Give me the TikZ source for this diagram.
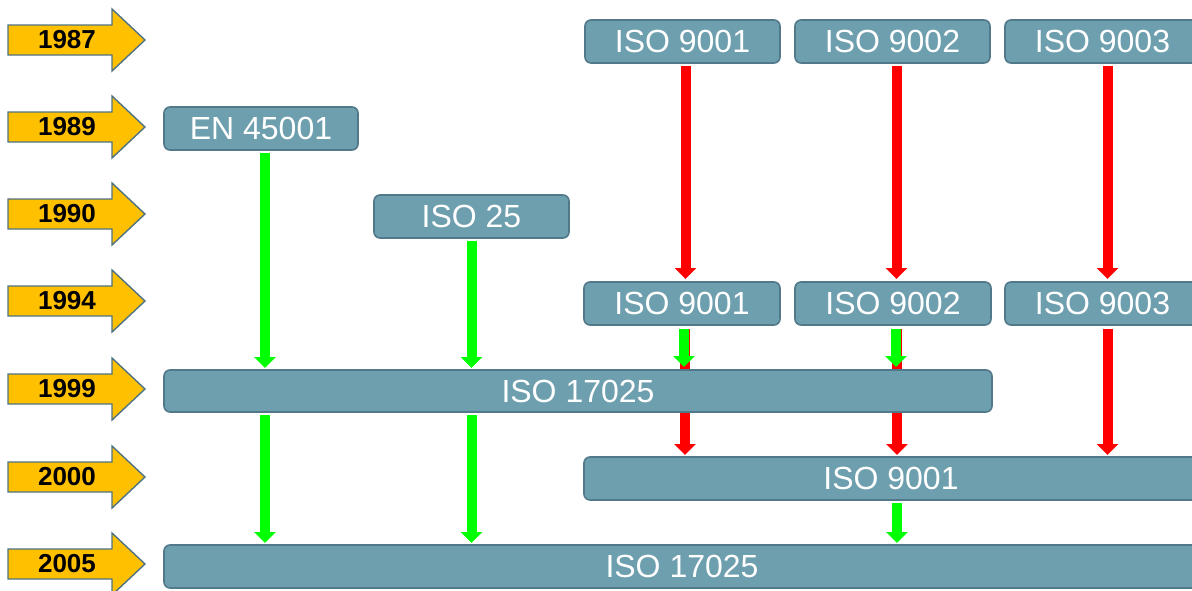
\documentclass[tikz,border=0pt]{standalone}
\usepackage{fontspec}
\setmainfont{Liberation Sans}
\usetikzlibrary{arrows.meta,backgrounds}
\definecolor{boxfill}{HTML}{6E9FAE}
\definecolor{boxline}{HTML}{52798A}
\definecolor{yel}{HTML}{FFC000}
\definecolor{yelline}{HTML}{4F7383}
\definecolor{grn}{HTML}{00FF00}
\definecolor{rd}{HTML}{FF0000}
\begin{document}
\begin{tikzpicture}[x=1pt,y=-1pt,
  stdbox/.style={draw=boxline, fill=boxfill, line width=1.6pt, rounded corners=6pt,
    inner sep=0pt, outer sep=0pt, text=white, font=\fontsize{32}{36}\selectfont},
  redarr/.style={draw=rd, line width=10pt, -{Triangle[length=11pt,width=21pt]}},
  grnarr/.style={draw=grn, line width=10pt, -{Triangle[length=11pt,width=21pt]}},
  yearlbl/.style={font=\fontsize{26}{30}\bfseries\selectfont, inner sep=0pt}]
\useasboundingbox (0,0) rectangle (1192,590);
\clip (0,0) rectangle (1192,590);

% year arrows
\foreach \yy/\lbl in {40/1987,127/1989,214/1990,301/1994,389/1999,477/2000,564/2005}{
  \draw[fill=yel, draw=yelline, line width=1.4pt, line join=miter]
    (8,\yy-15) -- (112,\yy-15) -- (112,\yy-31) -- (145,\yy) -- (112,\yy+31) -- (112,\yy+15) -- (8,\yy+15) -- cycle;
  \node[yearlbl] (y\lbl) at (67,\yy) {\lbl};
}

% boxes
\node[stdbox, minimum width=195pt, minimum height=43pt] (a9001) at (682.5,41.5) {ISO 9001};
\node[stdbox, minimum width=195pt, minimum height=43pt] (a9002) at (892.5,41.5) {ISO 9002};
\node[stdbox, minimum width=195pt, minimum height=43pt] (a9003) at (1102.5,41.5) {ISO 9003};
\node[stdbox, minimum width=194pt, minimum height=43pt] (en) at (261,128.5) {EN 45001};
\node[stdbox, minimum width=195pt, minimum height=43pt] (iso25) at (471.5,216.5) {ISO 25};
\node[stdbox, minimum width=196pt, minimum height=43pt] (b9001) at (682,303.5) {ISO 9001};
\node[stdbox, minimum width=196pt, minimum height=43pt] (b9002) at (893,303.5) {ISO 9002};
\node[stdbox, minimum width=195pt, minimum height=43pt] (b9003) at (1102.5,303.5) {ISO 9003};
\node[stdbox, minimum width=828pt, minimum height=42pt] (c17025) at (578,391) {ISO 17025};
\node[stdbox, minimum width=614pt, minimum height=43pt] (d9001) at (891,478.5) {ISO 9001};
\node[stdbox, minimum width=1036pt, minimum height=43pt] (e17025) at (682,566.5) {ISO 17025};

% red arrows behind the 1999 box
\begin{scope}[on background layer]
  \draw[redarr, shorten <=4pt, shorten >=2pt] ([xshift=3pt]b9001.south) -- ([xshift=3pt]b9001.south |- d9001.north);
  \draw[redarr, shorten <=4pt, shorten >=2pt] ([xshift=4pt]b9002.south) -- ([xshift=4pt]b9002.south |- d9001.north);
  \draw[redarr, shorten <=4pt, shorten >=2pt] ([xshift=5pt]b9003.south) -- ([xshift=5pt]b9003.south |- d9001.north);
\end{scope}

% red arrows 1987 -> 1994
\draw[redarr, shorten <=3pt, shorten >=3pt] ([xshift=3pt]a9001.south) -- ([xshift=3pt]a9001.south |- b9001.north);
\draw[redarr, shorten <=3pt, shorten >=3pt] ([xshift=4pt]a9002.south) -- ([xshift=4pt]a9002.south |- b9002.north);
\draw[redarr, shorten <=3pt, shorten >=3pt] ([xshift=5pt]a9003.south) -- ([xshift=5pt]a9003.south |- b9003.north);

% green arrows
\draw[grnarr, shorten <=3pt, shorten >=2pt] ([xshift=4pt]en.south) -- ([xshift=4pt]en.south |- c17025.north);
\draw[grnarr, shorten <=3pt, shorten >=2pt] (iso25.south) -- (iso25.south |- c17025.north);
\draw[grnarr, shorten <=4pt, shorten >=3pt] ([xshift=2pt]b9001.south) -- ([xshift=2pt]b9001.south |- c17025.north);
\draw[grnarr, shorten <=4pt, shorten >=3pt] ([xshift=3pt]b9002.south) -- ([xshift=3pt]b9002.south |- c17025.north);
\draw[grnarr, shorten <=3pt, shorten >=2pt] ([xshift=4pt]en.south |- c17025.south) -- ([xshift=4pt]en.south |- e17025.north);
\draw[grnarr, shorten <=3pt, shorten >=2pt] (iso25.south |- c17025.south) -- (iso25.south |- e17025.north);
\draw[grnarr, shorten <=3pt, shorten >=2pt] ([xshift=4pt]b9002.south |- d9001.south) -- ([xshift=4pt]b9002.south |- e17025.north);
\end{tikzpicture}
\end{document}
